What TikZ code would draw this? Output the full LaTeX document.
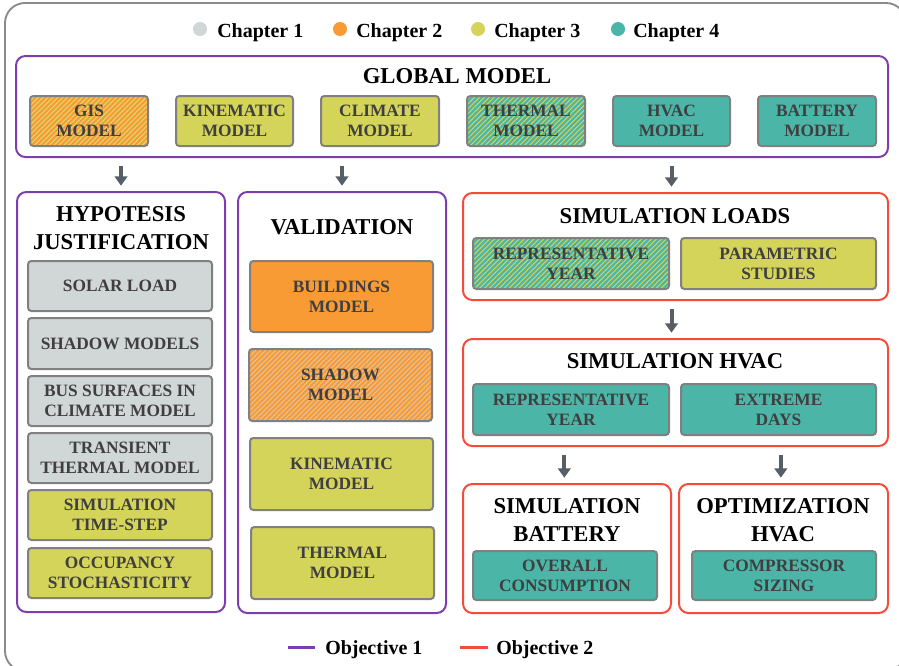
\documentclass[tikz,border=0pt]{standalone}
\usepackage{fontspec}
\setmainfont{Liberation Serif}
\usetikzlibrary{arrows.meta,patterns.meta}
\definecolor{cA}{HTML}{D1D6D6}
\definecolor{cB}{HTML}{F99B35}
\definecolor{cC}{HTML}{D4D35A}
\definecolor{cD}{HTML}{4BB5A8}
\definecolor{purp}{HTML}{7E3DAF}
\definecolor{redo}{HTML}{F44B3A}
\definecolor{bord}{HTML}{808080}
\definecolor{btext}{HTML}{3F3F3F}
\definecolor{agray}{HTML}{565E66}
\definecolor{fgray}{HTML}{8A8A8A}
\newcommand\bx[7]{\node[#6, minimum width={(#4-#2)*0.75pt}, minimum height={(#5-#3)*0.75pt}] (#1) at ({(#2+#4)/2},{(#3+#5)/2}) {#7};}
\tikzset{
  x=0.75pt, y=-0.75pt,
  inbox/.style={draw=bord, line width=1.5pt, rounded corners=2.5pt, inner sep=0pt, align=center,
    text=btext, font=\fontsize{13}{15}\selectfont\bfseries},
  gA/.style={inbox, fill=cA},
  gB/.style={inbox, fill=cB},
  gC/.style={inbox, fill=cC},
  gD/.style={inbox, fill=cD},
  hBC/.style={inbox, preaction={fill=cB}, pattern={Lines[angle=45,distance=2.6pt,line width=0.8pt]}, pattern color=cC!85!white},
  hBA/.style={inbox, preaction={fill=cB}, pattern={Lines[angle=45,distance=2.6pt,line width=0.8pt]}, pattern color=cA!70!cB},
  hDC/.style={inbox, preaction={fill=cD}, pattern={Lines[angle=45,distance=2.6pt,line width=0.8pt]}, pattern color=cC},
  grpP/.style={draw=purp, line width=1.5pt, rounded corners=7pt, inner sep=0pt, fill=white},
  grpR/.style={draw=redo, line width=1.5pt, rounded corners=7pt, inner sep=0pt, fill=white},
  ttl/.style={align=center, inner sep=0pt, font=\fontsize{17}{21}\selectfont\bfseries, text=black},
  lgd/.style={anchor=west, inner sep=0pt, font=\fontsize{15}{18}\selectfont\bfseries, text=black},
  arr/.style={draw=agray, line width=3pt, -{Triangle[width=9.5pt,length=7pt]}, shorten <=6pt, shorten >=4pt},
}
\begin{document}
\begin{tikzpicture}
\useasboundingbox (0,0) rectangle (899,665);
\clip (0,0) rectangle (899,665);
\draw[fgray, line width=1.4pt, rounded corners=15pt] (5,3) rectangle (906,671);

% chapter legend
\fill[cA] (200,29) circle (7);
\node[lgd] (ch1) at (217,32.5) {Chapter 1};
\fill[cB] (340,29) circle (7);
\node[lgd] (ch2) at (356,32.5) {Chapter 2};
\fill[cC] (478,29) circle (7);
\node[lgd] (ch3) at (494,32.5) {Chapter 3};
\fill[cD] (618,29) circle (7);
\node[lgd] (ch4) at (633,32.5) {Chapter 4};

% global model
\bx{glob}{16}{56}{888}{157}{grpP}{}
\node[ttl] (globT) at (457,76) {GLOBAL MODEL};
\bx{gis}{30}{96}{148}{146}{hBC}{GIS\\MODEL}
\bx{kin}{176}{96}{293}{146}{gC}{KINEMATIC\\MODEL}
\bx{cli}{321}{96}{439}{146}{gC}{CLIMATE\\MODEL}
\bx{the}{467}{96}{585}{146}{hDC}{THERMAL\\MODEL}
\bx{hva}{613}{96}{730}{146}{gD}{HVAC\\MODEL}
\bx{bat}{758}{96}{876}{146}{gD}{BATTERY\\MODEL}

% hypotesis
\bx{hyp}{17}{192}{225}{612}{grpP}{}
\node[ttl] (hypT) at (121,228) {HYPOTESIS\\JUSTIFICATION};
\bx{h1}{28}{261}{212}{311}{gA}{SOLAR LOAD}
\bx{h2}{28}{318}{212}{369}{gA}{SHADOW MODELS}
\bx{h3}{28}{376}{212}{426}{gA}{BUS SURFACES IN\\CLIMATE MODEL}
\bx{h4}{28}{433}{212}{483}{gA}{TRANSIENT\\THERMAL MODEL}
\bx{h5}{28}{490}{212}{540}{gC}{SIMULATION\\TIME-STEP}
\bx{h6}{28}{548}{212}{598}{gC}{OCCUPANCY\\STOCHASTICITY}

% validation
\bx{val}{238}{192}{446}{613}{grpP}{}
\node[ttl] (valT) at (342,227) {VALIDATION};
\bx{v1}{250}{261}{433}{332}{gB}{BUILDINGS\\MODEL}
\bx{v2}{249}{349}{432}{421}{hBA}{SHADOW\\MODEL}
\bx{v3}{250}{438}{433}{510}{gC}{KINEMATIC\\MODEL}
\bx{v4}{251}{527}{434}{599}{gC}{THERMAL\\MODEL}

% simulation loads
\bx{sl}{463}{193}{888}{300}{grpR}{}
\node[ttl] (slT) at (675,216) {SIMULATION LOADS};
\bx{sl1}{473}{238}{669}{289}{hDC}{REPRESENTATIVE\\YEAR}
\bx{sl2}{681}{238}{876}{289}{gC}{PARAMETRIC\\STUDIES}

% simulation hvac
\bx{sh}{463}{339}{888}{446}{grpR}{}
\node[ttl] (shT) at (675,361) {SIMULATION HVAC};
\bx{sh1}{473}{384}{669}{435}{gD}{REPRESENTATIVE\\YEAR}
\bx{sh2}{681}{384}{876}{435}{gD}{EXTREME\\DAYS}

% simulation battery
\bx{sb}{463}{484}{671}{613}{grpR}{}
\node[ttl] (sbT) at (567,520) {SIMULATION\\BATTERY};
\bx{sb1}{473}{551}{657}{600}{gD}{OVERALL\\CONSUMPTION}

% optimization hvac
\bx{oh}{679}{484}{888}{613}{grpR}{}
\node[ttl] (ohT) at (783,520) {OPTIMIZATION\\HVAC};
\bx{oh1}{692}{551}{876}{600}{gD}{COMPRESSOR\\SIZING}

% arrows
\draw[arr] (hyp.north |- glob.south) -- (hyp.north);
\draw[arr] (val.north |- glob.south) -- (val.north);
\draw[arr] ([xshift=-3pt]sl.north |- glob.south) -- ([xshift=-3pt]sl.north);
\draw[arr] ([xshift=-3pt]sl.south) -- ([xshift=-3pt]sh.north);
\draw[arr] ([xshift=-2pt]sb.north |- sh.south) -- ([xshift=-2pt]sb.north);
\draw[arr] ([xshift=-2pt]oh.north |- sh.south) -- ([xshift=-2pt]oh.north);

% objective legend
\node[lgd] (ob1) at (325,649.5) {Objective 1};
\draw[purp, line width=2.5pt] ([xshift=-7.5pt,yshift=1.5pt]ob1.west) -- ++(-27,0);
\node[lgd] (ob2) at (496,649.5) {Objective 2};
\draw[redo, line width=2.5pt] ([xshift=-6pt,yshift=1.5pt]ob2.west) -- ++(-28,0);
\end{tikzpicture}
\end{document}
